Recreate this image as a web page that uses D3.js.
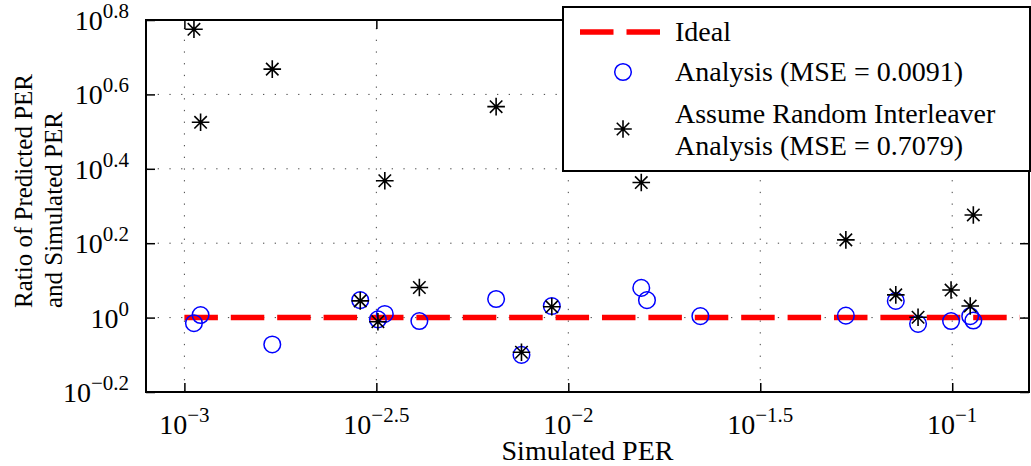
<!DOCTYPE html>
<html>
<head>
    <meta charset="utf-8" />
    <title>PER ratio</title>
    <script src="https://d3js.org/d3.v7.min.js"></script>
    <style>
        body { margin: 0; background: #fff; }
        svg { display: block; font-family: "Liberation Serif", "Times New Roman", serif; }
    </style>
</head>
<body>

<svg id="svg"></svg>

<script>

// simulated PER of each test case
let simPER = [0.001059, 0.001102, 0.001694, 0.002871, 0.003192, 0.003327, 0.004093,
              0.006486, 0.007551, 0.009057, 0.01549, 0.01603, 0.02208, 0.05284,
              0.07129, 0.08147, 0.09931, 0.1114, 0.1135];

// predicted / simulated
let analysisRatio = [0.966, 1.016, 0.847, 1.114, 0.989, 1.023, 0.979,
                     1.122, 0.794, 1.074, 1.202, 1.114, 1.009, 1.012,
                     1.109, 0.962, 0.979, 1.009, 0.982];

// two of these sit behind the legend, can't read them
let randomRatio = [5.957, 3.350, 4.656, 1.109, 0.975, 2.333, 1.205,
                   3.690, 0.807, 1.069, 2.307, null, null, 1.618,
                   1.151, 1.002, 1.186, 1.074, 1.888];

let idealX = [0.001, 0.15];
let idealY = [1, 1];

let xTickExp = [-3, -2.5, -2, -1.5, -1];
let yTickExp = [-0.2, 0, 0.2, 0.4, 0.6, 0.8];

let legendLabels = ["Ideal", "Analysis (MSE = 0.0091)",
                    ["Assume Random Interleaver", "Analysis (MSE = 0.7079)"]];

let W = 1031, H = 466;
let pLeft = 146, pRight = 1029, pTop = 20, pBottom = 392;

let svg = d3.select("#svg")
    .attr("width", W)
    .attr("height", H);

let x = d3.scaleLog()
    .domain([Math.pow(10, -3.1), Math.pow(10, -0.8)])
    .range([pLeft, pRight]);

let y = d3.scaleLog()
    .domain([Math.pow(10, -0.2), Math.pow(10, 0.8)])
    .range([pBottom, pTop]);

let xTicks = xTickExp.map(e => Math.pow(10, e));
let yTicks = yTickExp.map(e => Math.pow(10, e));

// grid, dotted
let grid = svg.append("g")
    .attr("stroke", "#444")
    .attr("stroke-width", 1)
    .attr("stroke-dasharray", "1.3,10.4");

grid.selectAll(".gx")
    .data(xTicks)
    .enter()
    .append("line")
    .attr("x1", d => x(d)).attr("x2", d => x(d))
    .attr("y1", pBottom).attr("y2", pTop);

grid.selectAll(".gy")
    .data(yTicks)
    .enter()
    .append("line")
    .attr("y1", d => y(d)).attr("y2", d => y(d))
    .attr("x1", pLeft).attr("x2", pRight);

// axes with inward ticks on all four sides
let tick = 9;
function styleAxis(g) {
    g.select(".domain").remove();
    g.selectAll(".tick line").attr("stroke", "#000").attr("stroke-width", 1.5);
}

svg.append("g")
    .attr("transform", `translate(0,${pBottom})`)
    .call(d3.axisBottom(x).tickValues(xTicks).tickSize(-tick).tickFormat(""))
    .call(styleAxis);
svg.append("g")
    .attr("transform", `translate(0,${pTop})`)
    .call(d3.axisTop(x).tickValues(xTicks).tickSize(-tick).tickFormat(""))
    .call(styleAxis);
svg.append("g")
    .attr("transform", `translate(${pLeft},0)`)
    .call(d3.axisLeft(y).tickValues(yTicks).tickSize(-tick).tickFormat(""))
    .call(styleAxis);
svg.append("g")
    .attr("transform", `translate(${pRight},0)`)
    .call(d3.axisRight(y).tickValues(yTicks).tickSize(-tick).tickFormat(""))
    .call(styleAxis);

svg.append("rect")
    .attr("x", pLeft).attr("y", pTop)
    .attr("width", pRight - pLeft).attr("height", pBottom - pTop)
    .attr("fill", "none")
    .attr("stroke", "#000")
    .attr("stroke-width", 2);

// tick labels as 10^e
function expText(e) {
    return (e < 0 ? "\u2212" : "") + Math.abs(e);
}

let xLab = svg.selectAll(".xlab")
    .data(xTickExp)
    .enter()
    .append("text")
    .attr("class", "xlab")
    .attr("x", d => x(Math.pow(10, d)))
    .attr("y", 434)
    .attr("text-anchor", "middle")
    .attr("font-size", 28);
xLab.append("tspan").text("10");
xLab.append("tspan").attr("dy", -12).attr("font-size", 21).text(d => expText(d));

let yLab = svg.selectAll(".ylab")
    .data(yTickExp)
    .enter()
    .append("text")
    .attr("class", "ylab")
    .attr("x", 129)
    .attr("y", d => y(Math.pow(10, d)) + 10)
    .attr("text-anchor", "end")
    .attr("font-size", 28);
yLab.append("tspan").text("10");
yLab.append("tspan").attr("dy", -12).attr("font-size", 21).text(d => expText(d));

// axis titles
svg.append("text")
    .attr("x", (pLeft + pRight) / 2)
    .attr("y", 460)
    .attr("text-anchor", "middle")
    .attr("font-size", 28)
    .text("Simulated PER");

let yt = svg.append("text")
    .attr("transform", "translate(32,308) rotate(-90)")
    .attr("font-size", 25);
yt.append("tspan").attr("x", 0).attr("y", 0).text("Ratio of Predicted PER");
yt.append("tspan").attr("x", 0).attr("y", 30).text("and Simulated PER");

// ideal line
let line = d3.line()
    .x(d => x(d[0]))
    .y(d => y(d[1]));

svg.append("path")
    .datum(d3.zip(idealX, idealY))
    .attr("d", line)
    .attr("fill", "none")
    .attr("stroke", "#ff0000")
    .attr("stroke-width", 5.5)
    .attr("stroke-dasharray", "33.5,12.9");

// star marker: plus and cross
function starPath(r) {
    let a = r * Math.SQRT1_2;
    return `M${-r},0L${r},0M0,${-r}L0,${r}M${-a},${-a}L${a},${a}M${-a},${a}L${a},${-a}`;
}

let mr = 8.3;

svg.selectAll(".ana")
    .data(d3.zip(simPER, analysisRatio))
    .enter()
    .append("circle")
    .attr("cx", d => x(d[0]))
    .attr("cy", d => y(d[1]))
    .attr("r", mr)
    .attr("fill", "none")
    .attr("stroke", "#0000ff")
    .attr("stroke-width", 1.5);

svg.selectAll(".rnd")
    .data(d3.zip(simPER, randomRatio).filter(d => d[1] != null))
    .enter()
    .append("path")
    .attr("transform", d => `translate(${x(d[0])},${y(d[1])})`)
    .attr("d", starPath(mr + 0.5))
    .attr("fill", "none")
    .attr("stroke", "#000")
    .attr("stroke-width", 1.6);

// legend
let lg = svg.append("g");
lg.append("rect")
    .attr("x", 563).attr("y", 7)
    .attr("width", 467).attr("height", 164)
    .attr("fill", "#fff")
    .attr("stroke", "#000")
    .attr("stroke-width", 2);

lg.append("line")
    .attr("x1", 580).attr("x2", 660)
    .attr("y1", 32).attr("y2", 32)
    .attr("stroke", "#ff0000")
    .attr("stroke-width", 5.5)
    .attr("stroke-dasharray", "33.5,13");

lg.append("circle")
    .attr("cx", 623).attr("cy", 72)
    .attr("r", mr)
    .attr("fill", "none")
    .attr("stroke", "#0000ff")
    .attr("stroke-width", 1.5);

lg.append("path")
    .attr("transform", "translate(623,129)")
    .attr("d", starPath(mr + 0.5))
    .attr("fill", "none")
    .attr("stroke", "#000")
    .attr("stroke-width", 1.6);

lg.append("text")
    .attr("x", 675).attr("y", 41)
    .attr("font-size", 28)
    .text(legendLabels[0]);
lg.append("text")
    .attr("x", 675).attr("y", 81)
    .attr("font-size", 28)
    .text(legendLabels[1]);
lg.append("text")
    .attr("x", 675).attr("y", 123)
    .attr("font-size", 28)
    .text(legendLabels[2][0]);
lg.append("text")
    .attr("x", 675).attr("y", 155)
    .attr("font-size", 28)
    .text(legendLabels[2][1]);

</script>

</body>
</html>
